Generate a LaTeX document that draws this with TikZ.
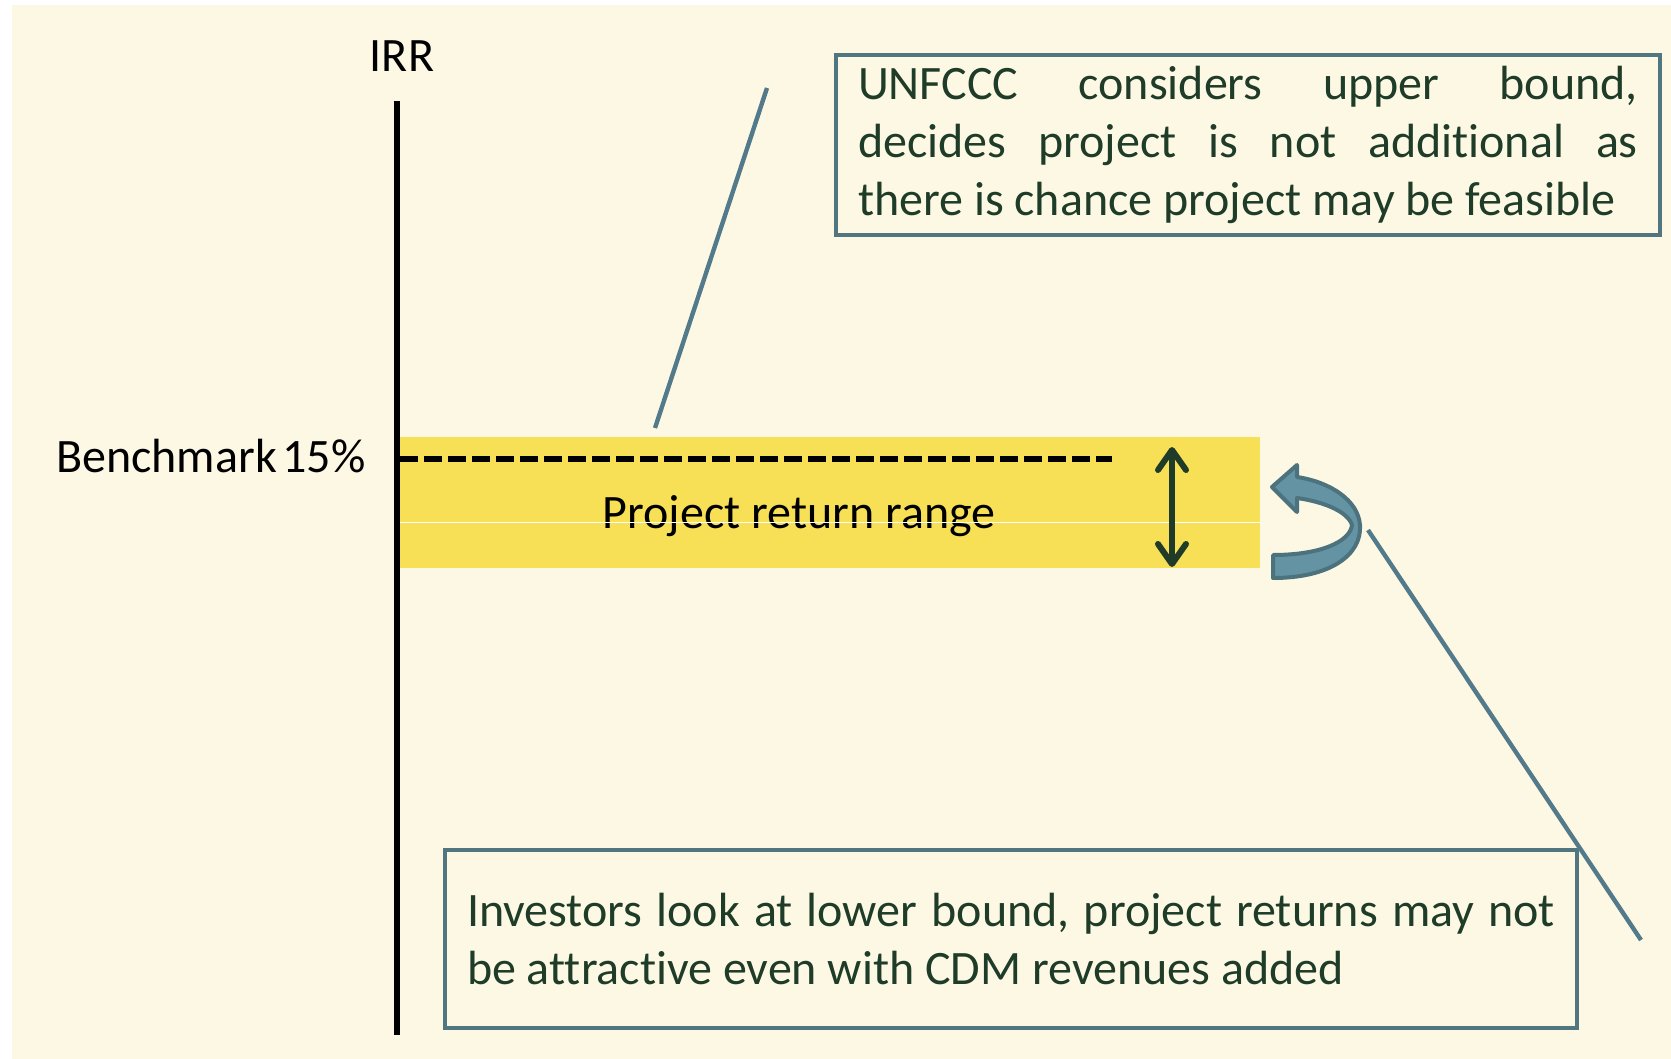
\documentclass[tikz,border=0pt]{standalone}
\usepackage{fontspec}
\setmainfont{Carlito}[Ligatures=NoCommon]
\usetikzlibrary{arrows.meta,positioning}
\definecolor{cream}{RGB}{253,248,228}
\definecolor{bandyellow}{RGB}{247,223,86}
\definecolor{boxedge}{RGB}{82,118,128}
\definecolor{darkgreen}{RGB}{30,60,40}
\definecolor{pointerblue}{RGB}{82,122,138}
\definecolor{turnfill}{RGB}{100,148,163}
\definecolor{turnedge}{RGB}{76,114,126}

\begin{document}
\begin{tikzpicture}[x=0.5pt,y=-0.5pt,
  txt/.style={inner sep=0pt,font=\fontsize{24}{28.8}\selectfont},
  callout/.style={draw=boxedge,line width=2pt,fill=cream,text=darkgreen,
                  align=flush left,inner xsep=11pt,inner ysep=0pt,
                  font=\fontsize{24}{28.8}\selectfont},
  pointer/.style={draw=pointerblue,line width=2.2pt},
  axisline/.style={line width=3pt},
  bench/.style={line width=3pt,dash pattern=on 9pt off 3pt},
  rangearrow/.style={draw=darkgreen,line width=3pt,
                     {Straight Barb[round,length=10pt,width=14pt]}-{Straight Barb[round,length=10pt,width=14pt]}}]
\useasboundingbox (0,0) rectangle (1671,1059);
\fill[cream] (12,5) rectangle (1671,1059);
% yellow range band
\node[fill=bandyellow,inner sep=0pt,anchor=north west,minimum width=430pt,minimum height=65.5pt] (band) at (400,437) {};
\coordinate (benchL) at (400,459);
\coordinate (benchR) at (1112,459);
\draw[bench] (benchL) -- (benchR);
\node[txt,anchor=base] (rangelbl) at (799,528) {Project return range};
\draw[white,line width=0.4pt] (band.west |- 0,522) -- (band.east |- 0,522);
\coordinate (rtop) at (1172,447);
\coordinate (rbot) at (1172,567);
\draw[rangearrow] (rtop) -- (rbot);
% IRR axis
\coordinate (axtop) at (397,101);
\coordinate (axbot) at (397,1035);
\draw[axisline] (axtop) -- (axbot);
\node[txt,anchor=base] (irr) at (402,72) {IRR};
\node[txt,anchor=base east] (bench) at (366,472) {Benchmark\hspace{0.12em}15\%};
% callouts
\node[callout,anchor=north west,minimum width=412pt,minimum height=90pt,text width=390pt] (upper) at (834,53)
  {UNFCCC\hfill considers\hfill upper\hfill bound,\\
   decides\hfill project\hfill is\hfill not\hfill additional\hfill as\\
   there is chance project may be feasible};
\node[callout,anchor=north west,minimum width=565.5pt,minimum height=89pt,text width=544pt] (lower) at (443,848)
  {Investors\hfill look\hfill at\hfill lower\hfill bound,\hfill project\hfill returns\hfill may\hfill not\\
   be attractive even with CDM revenues added};
\coordinate (p1a) at (655,428);
\coordinate (p1b) at (767,88);
\draw[pointer] (p1a) -- (p1b);
\coordinate (p2a) at (1368,530);
\coordinate (p2b) at (1641,940);
\draw[pointer] (p2a) -- (p2b);
% u-turn arrow
\filldraw[fill=turnfill,draw=turnedge,line width=2pt,line join=round]
  (1273,578) .. controls (1330,578) and (1362,555) .. (1360,525)
  .. controls (1358,500) and (1330,482) .. (1297,477)
  -- (1297,465) -- (1272,487) -- (1297,512) -- (1297,498)
  .. controls (1325,502) and (1348,512) .. (1352,525)
  .. controls (1350,542) and (1320,555) .. (1273,555) -- cycle;
\end{tikzpicture}
\end{document}
